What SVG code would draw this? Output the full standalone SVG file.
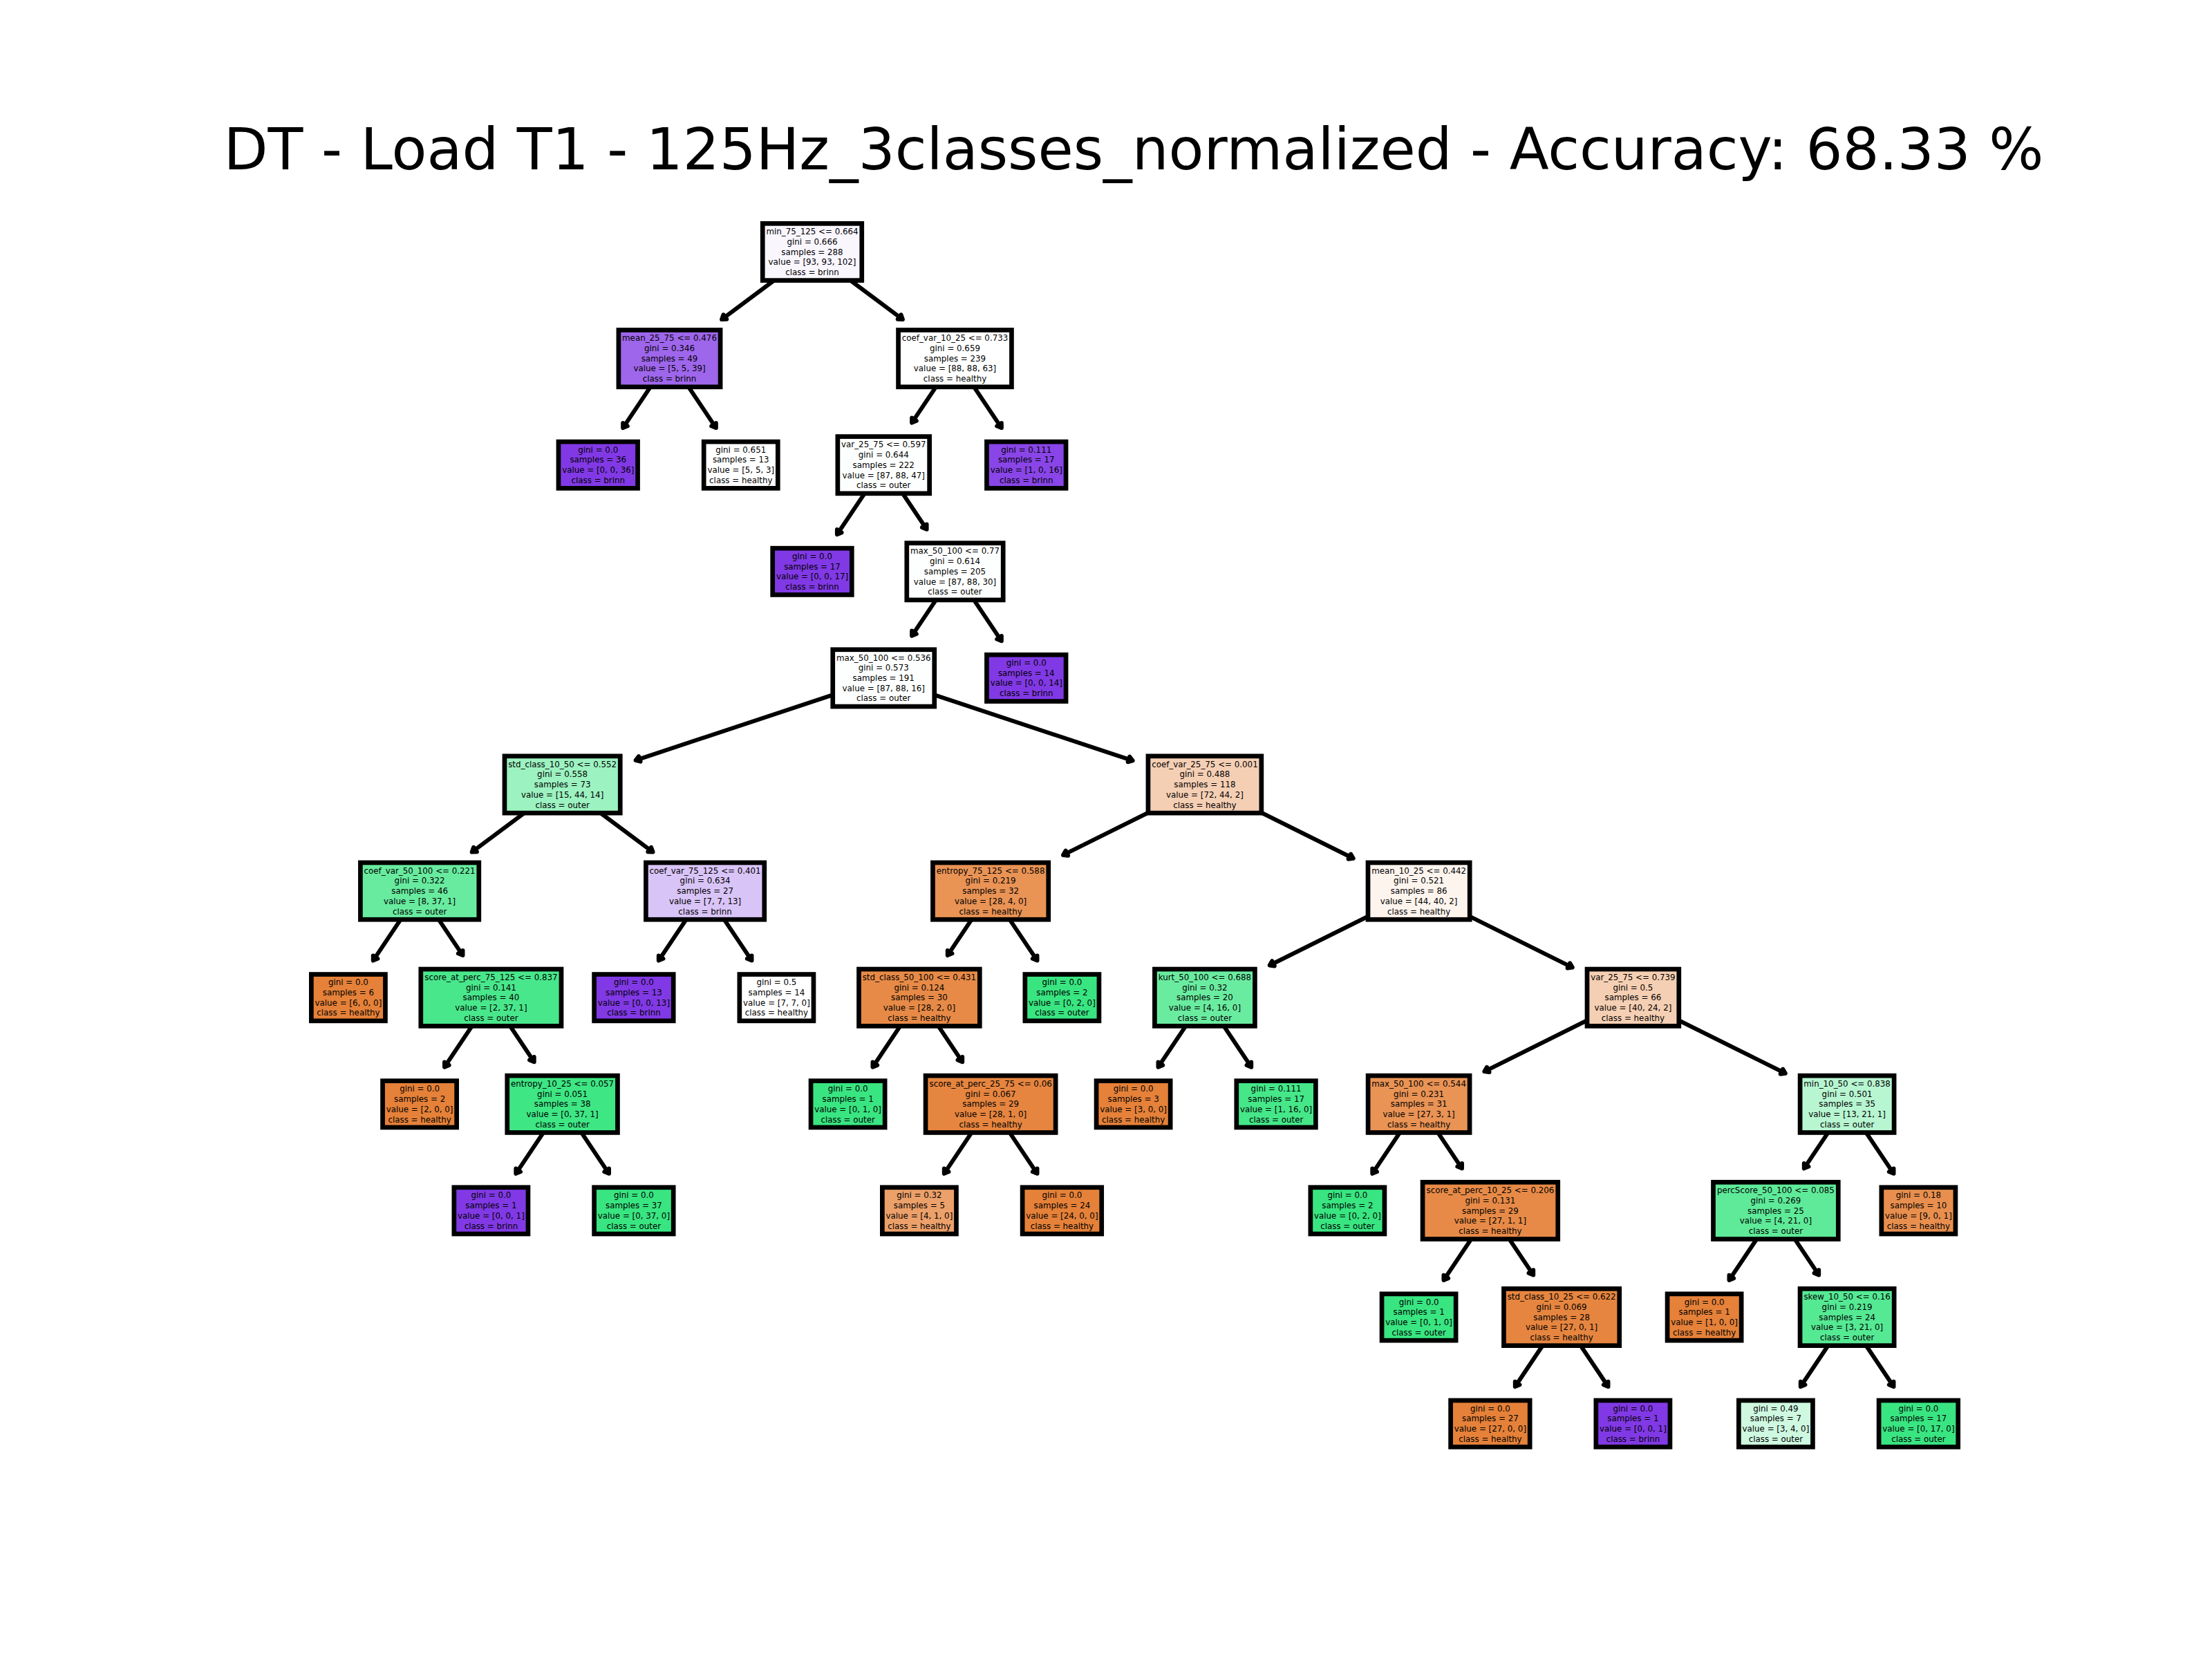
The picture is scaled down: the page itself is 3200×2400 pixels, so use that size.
<svg xmlns="http://www.w3.org/2000/svg" width="3200" height="2400" viewBox="0 0 3200 2400">
<defs>
<style>
.t{font-family:"DejaVu Sans",sans-serif;font-size:11.85px;text-anchor:middle;fill:#000}
.b{stroke:#000;stroke-width:6.7}
.e{stroke:#000;stroke-width:6;fill:none;marker-end:url(#ah)}
.title{font-family:"DejaVu Sans",sans-serif;font-size:83.3px;text-anchor:middle;fill:#000}
</style>
<marker id="ah" markerUnits="userSpaceOnUse" orient="auto" markerWidth="30" markerHeight="30" viewBox="-15 -15 30 30" refX="0" refY="0">
<path d="M-6,-4 L0,0 L-6,4" fill="#000" stroke="#000" stroke-width="6" stroke-linecap="round" stroke-linejoin="round"/>
</marker>
</defs>
<rect width="3200" height="2400" fill="#fff"/>
<text class="title" x="1640" y="245">DT - Load T1 - 125Hz_3classes_normalized - Accuracy: 68.33 %</text>
<g id="connectors">
<line class="e" x1="1175" y1="364.5" x2="1044.1" y2="462.1"/>
<line class="e" x1="1175" y1="364.5" x2="1305.9" y2="462.1"/>
<line class="e" x1="968.5" y1="518.6" x2="901.15" y2="619.1"/>
<line class="e" x1="968.5" y1="518.6" x2="1035.85" y2="619.1"/>
<line class="e" x1="1381.5" y1="518.6" x2="1319.15" y2="611.6"/>
<line class="e" x1="1381.5" y1="518.6" x2="1448.85" y2="619.1"/>
<line class="e" x1="1278.25" y1="672.7" x2="1210.9" y2="773.2"/>
<line class="e" x1="1278.25" y1="672.7" x2="1340.6" y2="765.7"/>
<line class="e" x1="1381.5" y1="826.8" x2="1319.15" y2="919.8"/>
<line class="e" x1="1381.5" y1="826.8" x2="1448.85" y2="927.3"/>
<line class="e" x1="1278.25" y1="980.9" x2="919.6" y2="1099.8"/>
<line class="e" x1="1278.25" y1="980.9" x2="1638.6" y2="1100.4"/>
<line class="e" x1="813.6" y1="1135" x2="682.7" y2="1232.6"/>
<line class="e" x1="813.6" y1="1135" x2="944.5" y2="1232.6"/>
<line class="e" x1="1742.9" y1="1135" x2="1538" y2="1236.9"/>
<line class="e" x1="1742.9" y1="1135" x2="1957.7" y2="1241.8"/>
<line class="e" x1="607.1" y1="1289.1" x2="539.8" y2="1389.6"/>
<line class="e" x1="607.1" y1="1289.1" x2="669.5" y2="1382.1"/>
<line class="e" x1="1020.1" y1="1289.1" x2="952.8" y2="1389.6"/>
<line class="e" x1="1020.1" y1="1289.1" x2="1087.5" y2="1389.6"/>
<line class="e" x1="1433.1" y1="1289.1" x2="1370.8" y2="1382.1"/>
<line class="e" x1="1433.1" y1="1289.1" x2="1500.5" y2="1389.6"/>
<line class="e" x1="2052.6" y1="1289.1" x2="1836.7" y2="1396.5"/>
<line class="e" x1="2052.6" y1="1289.1" x2="2274.75" y2="1399.6"/>
<line class="e" x1="710.4" y1="1443.2" x2="643" y2="1543.7"/>
<line class="e" x1="710.4" y1="1443.2" x2="772.7" y2="1536.2"/>
<line class="e" x1="1329.9" y1="1443.2" x2="1262.5" y2="1543.7"/>
<line class="e" x1="1329.9" y1="1443.2" x2="1392.2" y2="1536.2"/>
<line class="e" x1="1742.9" y1="1443.2" x2="1675.5" y2="1543.7"/>
<line class="e" x1="1742.9" y1="1443.2" x2="1810.2" y2="1543.7"/>
<line class="e" x1="2362.4" y1="1443.2" x2="2147.4" y2="1550.1"/>
<line class="e" x1="2362.4" y1="1443.2" x2="2582.8" y2="1552.8"/>
<line class="e" x1="813.6" y1="1597.3" x2="746.3" y2="1697.8"/>
<line class="e" x1="813.6" y1="1597.3" x2="881" y2="1697.8"/>
<line class="e" x1="1433.1" y1="1597.3" x2="1365.8" y2="1697.8"/>
<line class="e" x1="1433.1" y1="1597.3" x2="1500.5" y2="1697.8"/>
<line class="e" x1="2052.6" y1="1597.3" x2="1985.3" y2="1697.8"/>
<line class="e" x1="2052.6" y1="1597.3" x2="2115" y2="1690.3"/>
<line class="e" x1="2672.1" y1="1597.3" x2="2609.8" y2="1690.3"/>
<line class="e" x1="2672.1" y1="1597.3" x2="2739.5" y2="1697.8"/>
<line class="e" x1="2155.9" y1="1751.4" x2="2088.5" y2="1851.9"/>
<line class="e" x1="2155.9" y1="1751.4" x2="2218.2" y2="1844.4"/>
<line class="e" x1="2568.9" y1="1751.4" x2="2501.5" y2="1851.9"/>
<line class="e" x1="2568.9" y1="1751.4" x2="2631.2" y2="1844.4"/>
<line class="e" x1="2259.1" y1="1905.5" x2="2191.8" y2="2006"/>
<line class="e" x1="2259.1" y1="1905.5" x2="2326.5" y2="2006"/>
<line class="e" x1="2672.1" y1="1905.5" x2="2604.8" y2="2006"/>
<line class="e" x1="2672.1" y1="1905.5" x2="2739.5" y2="2006"/>
</g>
<g id="n1" transform="translate(1175,364.5)"><rect class="b" x="-71.75" y="-41.15" width="143.5" height="82.3" fill="#f9f6fe"/><text class="t" y="-25.4"><tspan x="0">min_75_125 &lt;= 0.664</tspan><tspan x="0" dy="14.75">gini = 0.666</tspan><tspan x="0" dy="14.75">samples = 288</tspan><tspan x="0" dy="14.75">value = [93, 93, 102]</tspan><tspan x="0" dy="14.75">class = brinn</tspan></text></g>
<g id="n2" transform="translate(968.5,518.6)"><rect class="b" x="-73.6" y="-41.15" width="147.2" height="82.3" fill="#9e66eb"/><text class="t" y="-25.4"><tspan x="0">mean_25_75 &lt;= 0.476</tspan><tspan x="0" dy="14.75">gini = 0.346</tspan><tspan x="0" dy="14.75">samples = 49</tspan><tspan x="0" dy="14.75">value = [5, 5, 39]</tspan><tspan x="0" dy="14.75">class = brinn</tspan></text></g>
<g id="n3" transform="translate(1381.5,518.6)"><rect class="b" x="-81.95" y="-41.15" width="163.9" height="82.3" fill="#ffffff"/><text class="t" y="-25.4"><tspan x="0">coef_var_10_25 &lt;= 0.733</tspan><tspan x="0" dy="14.75">gini = 0.659</tspan><tspan x="0" dy="14.75">samples = 239</tspan><tspan x="0" dy="14.75">value = [88, 88, 63]</tspan><tspan x="0" dy="14.75">class = healthy</tspan></text></g>
<g id="n4" transform="translate(865.25,672.7)"><rect class="b" x="-57.3" y="-33.65" width="114.6" height="67.3" fill="#8139e5"/><text class="t" y="-18"><tspan x="0">gini = 0.0</tspan><tspan x="0" dy="14.75">samples = 36</tspan><tspan x="0" dy="14.75">value = [0, 0, 36]</tspan><tspan x="0" dy="14.75">class = brinn</tspan></text></g>
<g id="n5" transform="translate(1071.75,672.7)"><rect class="b" x="-53.55" y="-33.65" width="107.1" height="67.3" fill="#ffffff"/><text class="t" y="-18"><tspan x="0">gini = 0.651</tspan><tspan x="0" dy="14.75">samples = 13</tspan><tspan x="0" dy="14.75">value = [5, 5, 3]</tspan><tspan x="0" dy="14.75">class = healthy</tspan></text></g>
<g id="n6" transform="translate(1278.25,672.7)"><rect class="b" x="-66.4" y="-41.15" width="132.8" height="82.3" fill="#fdfffe"/><text class="t" y="-25.4"><tspan x="0">var_25_75 &lt;= 0.597</tspan><tspan x="0" dy="14.75">gini = 0.644</tspan><tspan x="0" dy="14.75">samples = 222</tspan><tspan x="0" dy="14.75">value = [87, 88, 47]</tspan><tspan x="0" dy="14.75">class = outer</tspan></text></g>
<g id="n7" transform="translate(1484.75,672.7)"><rect class="b" x="-57.3" y="-33.65" width="114.6" height="67.3" fill="#8945e7"/><text class="t" y="-18"><tspan x="0">gini = 0.111</tspan><tspan x="0" dy="14.75">samples = 17</tspan><tspan x="0" dy="14.75">value = [1, 0, 16]</tspan><tspan x="0" dy="14.75">class = brinn</tspan></text></g>
<g id="n8" transform="translate(1175,826.8)"><rect class="b" x="-57.3" y="-33.65" width="114.6" height="67.3" fill="#8139e5"/><text class="t" y="-18"><tspan x="0">gini = 0.0</tspan><tspan x="0" dy="14.75">samples = 17</tspan><tspan x="0" dy="14.75">value = [0, 0, 17]</tspan><tspan x="0" dy="14.75">class = brinn</tspan></text></g>
<g id="n9" transform="translate(1381.5,826.8)"><rect class="b" x="-69.7" y="-41.15" width="139.4" height="82.3" fill="#fdfffe"/><text class="t" y="-25.4"><tspan x="0">max_50_100 &lt;= 0.77</tspan><tspan x="0" dy="14.75">gini = 0.614</tspan><tspan x="0" dy="14.75">samples = 205</tspan><tspan x="0" dy="14.75">value = [87, 88, 30]</tspan><tspan x="0" dy="14.75">class = outer</tspan></text></g>
<g id="n10" transform="translate(1278.25,980.9)"><rect class="b" x="-73.5" y="-41.15" width="147" height="82.3" fill="#fdfffe"/><text class="t" y="-25.4"><tspan x="0">max_50_100 &lt;= 0.536</tspan><tspan x="0" dy="14.75">gini = 0.573</tspan><tspan x="0" dy="14.75">samples = 191</tspan><tspan x="0" dy="14.75">value = [87, 88, 16]</tspan><tspan x="0" dy="14.75">class = outer</tspan></text></g>
<g id="n11" transform="translate(1484.75,980.9)"><rect class="b" x="-57.3" y="-33.65" width="114.6" height="67.3" fill="#8139e5"/><text class="t" y="-18"><tspan x="0">gini = 0.0</tspan><tspan x="0" dy="14.75">samples = 14</tspan><tspan x="0" dy="14.75">value = [0, 0, 14]</tspan><tspan x="0" dy="14.75">class = brinn</tspan></text></g>
<g id="n12" transform="translate(813.6,1135)"><rect class="b" x="-83.65" y="-41.15" width="167.3" height="82.3" fill="#9cf2c0"/><text class="t" y="-25.4"><tspan x="0">std_class_10_50 &lt;= 0.552</tspan><tspan x="0" dy="14.75">gini = 0.558</tspan><tspan x="0" dy="14.75">samples = 73</tspan><tspan x="0" dy="14.75">value = [15, 44, 14]</tspan><tspan x="0" dy="14.75">class = outer</tspan></text></g>
<g id="n13" transform="translate(1742.9,1135)"><rect class="b" x="-81.95" y="-41.15" width="163.9" height="82.3" fill="#f5cfb4"/><text class="t" y="-25.4"><tspan x="0">coef_var_25_75 &lt;= 0.001</tspan><tspan x="0" dy="14.75">gini = 0.488</tspan><tspan x="0" dy="14.75">samples = 118</tspan><tspan x="0" dy="14.75">value = [72, 44, 2]</tspan><tspan x="0" dy="14.75">class = healthy</tspan></text></g>
<g id="n14" transform="translate(607.1,1289.1)"><rect class="b" x="-85.7" y="-41.15" width="171.4" height="82.3" fill="#68eb9f"/><text class="t" y="-25.4"><tspan x="0">coef_var_50_100 &lt;= 0.221</tspan><tspan x="0" dy="14.75">gini = 0.322</tspan><tspan x="0" dy="14.75">samples = 46</tspan><tspan x="0" dy="14.75">value = [8, 37, 1]</tspan><tspan x="0" dy="14.75">class = outer</tspan></text></g>
<g id="n15" transform="translate(1020.1,1289.1)"><rect class="b" x="-85.7" y="-41.15" width="171.4" height="82.3" fill="#d9c4f7"/><text class="t" y="-25.4"><tspan x="0">coef_var_75_125 &lt;= 0.401</tspan><tspan x="0" dy="14.75">gini = 0.634</tspan><tspan x="0" dy="14.75">samples = 27</tspan><tspan x="0" dy="14.75">value = [7, 7, 13]</tspan><tspan x="0" dy="14.75">class = brinn</tspan></text></g>
<g id="n16" transform="translate(1433.1,1289.1)"><rect class="b" x="-83.65" y="-41.15" width="167.3" height="82.3" fill="#e99355"/><text class="t" y="-25.4"><tspan x="0">entropy_75_125 &lt;= 0.588</tspan><tspan x="0" dy="14.75">gini = 0.219</tspan><tspan x="0" dy="14.75">samples = 32</tspan><tspan x="0" dy="14.75">value = [28, 4, 0]</tspan><tspan x="0" dy="14.75">class = healthy</tspan></text></g>
<g id="n17" transform="translate(2052.6,1289.1)"><rect class="b" x="-73.6" y="-41.15" width="147.2" height="82.3" fill="#fdf4ee"/><text class="t" y="-25.4"><tspan x="0">mean_10_25 &lt;= 0.442</tspan><tspan x="0" dy="14.75">gini = 0.521</tspan><tspan x="0" dy="14.75">samples = 86</tspan><tspan x="0" dy="14.75">value = [44, 40, 2]</tspan><tspan x="0" dy="14.75">class = healthy</tspan></text></g>
<g id="n18" transform="translate(503.9,1443.2)"><rect class="b" x="-53.55" y="-33.65" width="107.1" height="67.3" fill="#e58139"/><text class="t" y="-18"><tspan x="0">gini = 0.0</tspan><tspan x="0" dy="14.75">samples = 6</tspan><tspan x="0" dy="14.75">value = [6, 0, 0]</tspan><tspan x="0" dy="14.75">class = healthy</tspan></text></g>
<g id="n19" transform="translate(710.4,1443.2)"><rect class="b" x="-101.6" y="-41.15" width="203.2" height="82.3" fill="#49e78b"/><text class="t" y="-25.4"><tspan x="0">score_at_perc_75_125 &lt;= 0.837</tspan><tspan x="0" dy="14.75">gini = 0.141</tspan><tspan x="0" dy="14.75">samples = 40</tspan><tspan x="0" dy="14.75">value = [2, 37, 1]</tspan><tspan x="0" dy="14.75">class = outer</tspan></text></g>
<g id="n20" transform="translate(916.9,1443.2)"><rect class="b" x="-57.3" y="-33.65" width="114.6" height="67.3" fill="#8139e5"/><text class="t" y="-18"><tspan x="0">gini = 0.0</tspan><tspan x="0" dy="14.75">samples = 13</tspan><tspan x="0" dy="14.75">value = [0, 0, 13]</tspan><tspan x="0" dy="14.75">class = brinn</tspan></text></g>
<g id="n21" transform="translate(1123.4,1443.2)"><rect class="b" x="-53.55" y="-33.65" width="107.1" height="67.3" fill="#ffffff"/><text class="t" y="-18"><tspan x="0">gini = 0.5</tspan><tspan x="0" dy="14.75">samples = 14</tspan><tspan x="0" dy="14.75">value = [7, 7, 0]</tspan><tspan x="0" dy="14.75">class = healthy</tspan></text></g>
<g id="n22" transform="translate(1329.9,1443.2)"><rect class="b" x="-87.4" y="-41.15" width="174.8" height="82.3" fill="#e78a47"/><text class="t" y="-25.4"><tspan x="0">std_class_50_100 &lt;= 0.431</tspan><tspan x="0" dy="14.75">gini = 0.124</tspan><tspan x="0" dy="14.75">samples = 30</tspan><tspan x="0" dy="14.75">value = [28, 2, 0]</tspan><tspan x="0" dy="14.75">class = healthy</tspan></text></g>
<g id="n23" transform="translate(1536.4,1443.2)"><rect class="b" x="-53.55" y="-33.65" width="107.1" height="67.3" fill="#39e581"/><text class="t" y="-18"><tspan x="0">gini = 0.0</tspan><tspan x="0" dy="14.75">samples = 2</tspan><tspan x="0" dy="14.75">value = [0, 2, 0]</tspan><tspan x="0" dy="14.75">class = outer</tspan></text></g>
<g id="n24" transform="translate(1742.9,1443.2)"><rect class="b" x="-72.5" y="-41.15" width="145" height="82.3" fill="#6aeca0"/><text class="t" y="-25.4"><tspan x="0">kurt_50_100 &lt;= 0.688</tspan><tspan x="0" dy="14.75">gini = 0.32</tspan><tspan x="0" dy="14.75">samples = 20</tspan><tspan x="0" dy="14.75">value = [4, 16, 0]</tspan><tspan x="0" dy="14.75">class = outer</tspan></text></g>
<g id="n25" transform="translate(2362.4,1443.2)"><rect class="b" x="-66.4" y="-41.15" width="132.8" height="82.3" fill="#f5cfb3"/><text class="t" y="-25.4"><tspan x="0">var_25_75 &lt;= 0.739</tspan><tspan x="0" dy="14.75">gini = 0.5</tspan><tspan x="0" dy="14.75">samples = 66</tspan><tspan x="0" dy="14.75">value = [40, 24, 2]</tspan><tspan x="0" dy="14.75">class = healthy</tspan></text></g>
<g id="n26" transform="translate(607.1,1597.3)"><rect class="b" x="-53.55" y="-33.65" width="107.1" height="67.3" fill="#e58139"/><text class="t" y="-18"><tspan x="0">gini = 0.0</tspan><tspan x="0" dy="14.75">samples = 2</tspan><tspan x="0" dy="14.75">value = [2, 0, 0]</tspan><tspan x="0" dy="14.75">class = healthy</tspan></text></g>
<g id="n27" transform="translate(813.6,1597.3)"><rect class="b" x="-79.85" y="-41.15" width="159.7" height="82.3" fill="#3ee684"/><text class="t" y="-25.4"><tspan x="0">entropy_10_25 &lt;= 0.057</tspan><tspan x="0" dy="14.75">gini = 0.051</tspan><tspan x="0" dy="14.75">samples = 38</tspan><tspan x="0" dy="14.75">value = [0, 37, 1]</tspan><tspan x="0" dy="14.75">class = outer</tspan></text></g>
<g id="n28" transform="translate(1226.6,1597.3)"><rect class="b" x="-53.55" y="-33.65" width="107.1" height="67.3" fill="#39e581"/><text class="t" y="-18"><tspan x="0">gini = 0.0</tspan><tspan x="0" dy="14.75">samples = 1</tspan><tspan x="0" dy="14.75">value = [0, 1, 0]</tspan><tspan x="0" dy="14.75">class = outer</tspan></text></g>
<g id="n29" transform="translate(1433.1,1597.3)"><rect class="b" x="-94.05" y="-41.15" width="188.1" height="82.3" fill="#e6853f"/><text class="t" y="-25.4"><tspan x="0">score_at_perc_25_75 &lt;= 0.06</tspan><tspan x="0" dy="14.75">gini = 0.067</tspan><tspan x="0" dy="14.75">samples = 29</tspan><tspan x="0" dy="14.75">value = [28, 1, 0]</tspan><tspan x="0" dy="14.75">class = healthy</tspan></text></g>
<g id="n30" transform="translate(1639.6,1597.3)"><rect class="b" x="-53.55" y="-33.65" width="107.1" height="67.3" fill="#e58139"/><text class="t" y="-18"><tspan x="0">gini = 0.0</tspan><tspan x="0" dy="14.75">samples = 3</tspan><tspan x="0" dy="14.75">value = [3, 0, 0]</tspan><tspan x="0" dy="14.75">class = healthy</tspan></text></g>
<g id="n31" transform="translate(1846.1,1597.3)"><rect class="b" x="-57.3" y="-33.65" width="114.6" height="67.3" fill="#45e789"/><text class="t" y="-18"><tspan x="0">gini = 0.111</tspan><tspan x="0" dy="14.75">samples = 17</tspan><tspan x="0" dy="14.75">value = [1, 16, 0]</tspan><tspan x="0" dy="14.75">class = outer</tspan></text></g>
<g id="n32" transform="translate(2052.6,1597.3)"><rect class="b" x="-73.5" y="-41.15" width="147" height="82.3" fill="#e99355"/><text class="t" y="-25.4"><tspan x="0">max_50_100 &lt;= 0.544</tspan><tspan x="0" dy="14.75">gini = 0.231</tspan><tspan x="0" dy="14.75">samples = 31</tspan><tspan x="0" dy="14.75">value = [27, 3, 1]</tspan><tspan x="0" dy="14.75">class = healthy</tspan></text></g>
<g id="n33" transform="translate(2672.1,1597.3)"><rect class="b" x="-68" y="-41.15" width="136" height="82.3" fill="#b7f6d1"/><text class="t" y="-25.4"><tspan x="0">min_10_50 &lt;= 0.838</tspan><tspan x="0" dy="14.75">gini = 0.501</tspan><tspan x="0" dy="14.75">samples = 35</tspan><tspan x="0" dy="14.75">value = [13, 21, 1]</tspan><tspan x="0" dy="14.75">class = outer</tspan></text></g>
<g id="n34" transform="translate(710.4,1751.4)"><rect class="b" x="-53.55" y="-33.65" width="107.1" height="67.3" fill="#8139e5"/><text class="t" y="-18"><tspan x="0">gini = 0.0</tspan><tspan x="0" dy="14.75">samples = 1</tspan><tspan x="0" dy="14.75">value = [0, 0, 1]</tspan><tspan x="0" dy="14.75">class = brinn</tspan></text></g>
<g id="n35" transform="translate(916.9,1751.4)"><rect class="b" x="-57.3" y="-33.65" width="114.6" height="67.3" fill="#39e581"/><text class="t" y="-18"><tspan x="0">gini = 0.0</tspan><tspan x="0" dy="14.75">samples = 37</tspan><tspan x="0" dy="14.75">value = [0, 37, 0]</tspan><tspan x="0" dy="14.75">class = outer</tspan></text></g>
<g id="n36" transform="translate(1329.9,1751.4)"><rect class="b" x="-53.55" y="-33.65" width="107.1" height="67.3" fill="#eca06a"/><text class="t" y="-18"><tspan x="0">gini = 0.32</tspan><tspan x="0" dy="14.75">samples = 5</tspan><tspan x="0" dy="14.75">value = [4, 1, 0]</tspan><tspan x="0" dy="14.75">class = healthy</tspan></text></g>
<g id="n37" transform="translate(1536.4,1751.4)"><rect class="b" x="-57.3" y="-33.65" width="114.6" height="67.3" fill="#e58139"/><text class="t" y="-18"><tspan x="0">gini = 0.0</tspan><tspan x="0" dy="14.75">samples = 24</tspan><tspan x="0" dy="14.75">value = [24, 0, 0]</tspan><tspan x="0" dy="14.75">class = healthy</tspan></text></g>
<g id="n38" transform="translate(1949.4,1751.4)"><rect class="b" x="-53.55" y="-33.65" width="107.1" height="67.3" fill="#39e581"/><text class="t" y="-18"><tspan x="0">gini = 0.0</tspan><tspan x="0" dy="14.75">samples = 2</tspan><tspan x="0" dy="14.75">value = [0, 2, 0]</tspan><tspan x="0" dy="14.75">class = outer</tspan></text></g>
<g id="n39" transform="translate(2155.9,1751.4)"><rect class="b" x="-97.85" y="-41.15" width="195.7" height="82.3" fill="#e78a47"/><text class="t" y="-25.4"><tspan x="0">score_at_perc_10_25 &lt;= 0.206</tspan><tspan x="0" dy="14.75">gini = 0.131</tspan><tspan x="0" dy="14.75">samples = 29</tspan><tspan x="0" dy="14.75">value = [27, 1, 1]</tspan><tspan x="0" dy="14.75">class = healthy</tspan></text></g>
<g id="n40" transform="translate(2568.9,1751.4)"><rect class="b" x="-90.4" y="-41.15" width="180.8" height="82.3" fill="#5fea99"/><text class="t" y="-25.4"><tspan x="0">percScore_50_100 &lt;= 0.085</tspan><tspan x="0" dy="14.75">gini = 0.269</tspan><tspan x="0" dy="14.75">samples = 25</tspan><tspan x="0" dy="14.75">value = [4, 21, 0]</tspan><tspan x="0" dy="14.75">class = outer</tspan></text></g>
<g id="n41" transform="translate(2775.4,1751.4)"><rect class="b" x="-53.55" y="-33.65" width="107.1" height="67.3" fill="#e88f4f"/><text class="t" y="-18"><tspan x="0">gini = 0.18</tspan><tspan x="0" dy="14.75">samples = 10</tspan><tspan x="0" dy="14.75">value = [9, 0, 1]</tspan><tspan x="0" dy="14.75">class = healthy</tspan></text></g>
<g id="n42" transform="translate(2052.6,1905.5)"><rect class="b" x="-53.55" y="-33.65" width="107.1" height="67.3" fill="#39e581"/><text class="t" y="-18"><tspan x="0">gini = 0.0</tspan><tspan x="0" dy="14.75">samples = 1</tspan><tspan x="0" dy="14.75">value = [0, 1, 0]</tspan><tspan x="0" dy="14.75">class = outer</tspan></text></g>
<g id="n43" transform="translate(2259.1,1905.5)"><rect class="b" x="-83.65" y="-41.15" width="167.3" height="82.3" fill="#e6853f"/><text class="t" y="-25.4"><tspan x="0">std_class_10_25 &lt;= 0.622</tspan><tspan x="0" dy="14.75">gini = 0.069</tspan><tspan x="0" dy="14.75">samples = 28</tspan><tspan x="0" dy="14.75">value = [27, 0, 1]</tspan><tspan x="0" dy="14.75">class = healthy</tspan></text></g>
<g id="n44" transform="translate(2465.6,1905.5)"><rect class="b" x="-53.55" y="-33.65" width="107.1" height="67.3" fill="#e58139"/><text class="t" y="-18"><tspan x="0">gini = 0.0</tspan><tspan x="0" dy="14.75">samples = 1</tspan><tspan x="0" dy="14.75">value = [1, 0, 0]</tspan><tspan x="0" dy="14.75">class = healthy</tspan></text></g>
<g id="n45" transform="translate(2672.1,1905.5)"><rect class="b" x="-68.05" y="-41.15" width="136.1" height="82.3" fill="#55e993"/><text class="t" y="-25.4"><tspan x="0">skew_10_50 &lt;= 0.16</tspan><tspan x="0" dy="14.75">gini = 0.219</tspan><tspan x="0" dy="14.75">samples = 24</tspan><tspan x="0" dy="14.75">value = [3, 21, 0]</tspan><tspan x="0" dy="14.75">class = outer</tspan></text></g>
<g id="n46" transform="translate(2155.9,2059.6)"><rect class="b" x="-57.3" y="-33.65" width="114.6" height="67.3" fill="#e58139"/><text class="t" y="-18"><tspan x="0">gini = 0.0</tspan><tspan x="0" dy="14.75">samples = 27</tspan><tspan x="0" dy="14.75">value = [27, 0, 0]</tspan><tspan x="0" dy="14.75">class = healthy</tspan></text></g>
<g id="n47" transform="translate(2362.4,2059.6)"><rect class="b" x="-53.55" y="-33.65" width="107.1" height="67.3" fill="#8139e5"/><text class="t" y="-18"><tspan x="0">gini = 0.0</tspan><tspan x="0" dy="14.75">samples = 1</tspan><tspan x="0" dy="14.75">value = [0, 0, 1]</tspan><tspan x="0" dy="14.75">class = brinn</tspan></text></g>
<g id="n48" transform="translate(2568.9,2059.6)"><rect class="b" x="-53.55" y="-33.65" width="107.1" height="67.3" fill="#cef8e0"/><text class="t" y="-18"><tspan x="0">gini = 0.49</tspan><tspan x="0" dy="14.75">samples = 7</tspan><tspan x="0" dy="14.75">value = [3, 4, 0]</tspan><tspan x="0" dy="14.75">class = outer</tspan></text></g>
<g id="n49" transform="translate(2775.4,2059.6)"><rect class="b" x="-57.3" y="-33.65" width="114.6" height="67.3" fill="#39e581"/><text class="t" y="-18"><tspan x="0">gini = 0.0</tspan><tspan x="0" dy="14.75">samples = 17</tspan><tspan x="0" dy="14.75">value = [0, 17, 0]</tspan><tspan x="0" dy="14.75">class = outer</tspan></text></g>
</svg>
